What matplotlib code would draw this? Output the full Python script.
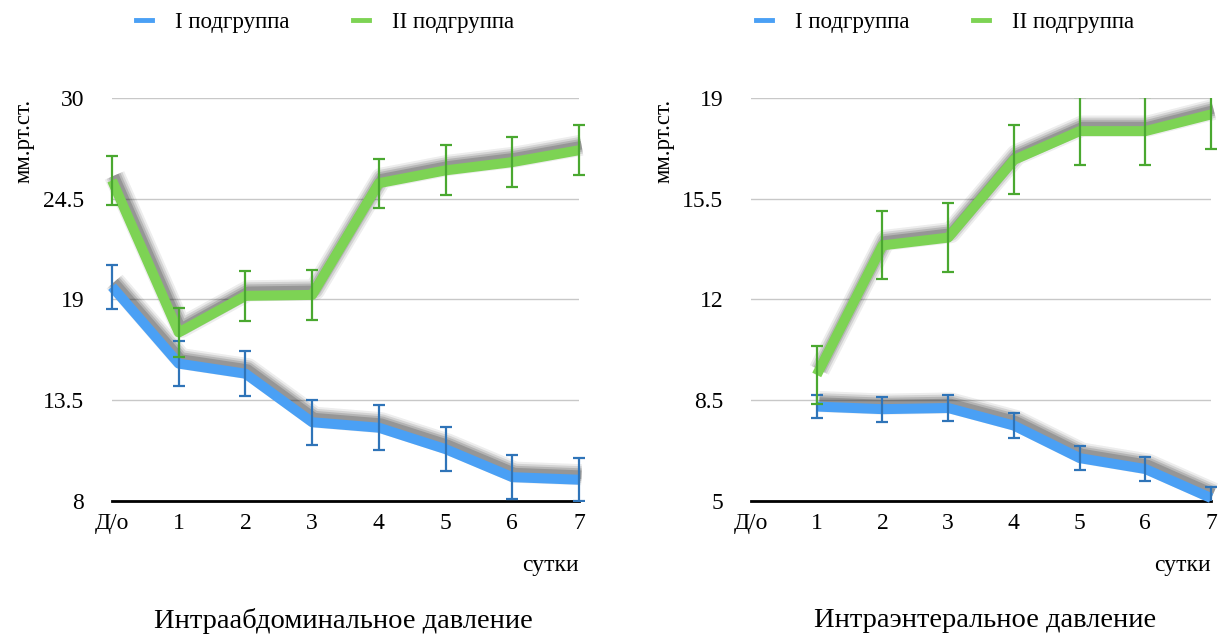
import numpy as np
import matplotlib
matplotlib.use('Agg')
import matplotlib.pyplot as plt
import matplotlib.patheffects as pe
from matplotlib.lines import Line2D
from matplotlib.transforms import Bbox, TransformedBbox

plt.rcParams['font.family'] = ['Liberation Serif', 'DejaVu Serif']

days = ['Д/о', '1', '2', '3', '4', '5', '6', '7']
series_names = ['I подгруппа', 'II подгруппа']

# Интраабдоминальное давление
abd_g1 = [19.7, 15.5, 14.95, 12.3, 12.0, 10.83, 9.3, 9.16]
abd_g1_err = [1.2, 1.23, 1.23, 1.22, 1.22, 1.2, 1.2, 1.16]
abd_g2 = [25.5, 17.2, 19.2, 19.25, 25.35, 26.05, 26.5, 27.15]
abd_g2_err = [1.35, 1.35, 1.37, 1.37, 1.34, 1.37, 1.35, 1.35]

# Интраэнтеральное давление (нет значения до операции)
ent_g1 = [np.nan, 8.28, 8.19, 8.23, 7.62, 6.49, 6.11, 5.1]
ent_g1_err = [np.nan, 0.4, 0.43, 0.44, 0.43, 0.42, 0.41, 0.4]
ent_g2 = [np.nan, 9.38, 13.88, 14.15, 16.85, 17.85, 17.85, 18.43]
ent_g2_err = [np.nan, 1.0, 1.18, 1.2, 1.2, 1.17, 1.17, 1.2]

blue_line, blue_err = '#4aa0f5', '#2f74b8'
green_line, green_err = '#7dd354', '#4aa830'

fig = plt.figure(figsize=(12.19, 6.36), dpi=100)
ax1 = fig.add_axes([0.0919, 0.2123, 0.3831, 0.6336])
ax2 = fig.add_axes([0.6161, 0.2123, 0.3774, 0.6336])

lw = 7.2
# размытая тень над линией
shadow = [pe.Stroke(linewidth=lw + w, foreground='#1a1a1a', alpha=a, offset=(1.8, 3.6))
          for w, a in ((8, 0.08), (5, 0.12), (2, 0.16), (-1, 0.2))] + [pe.Normal()]

def panel(ax, g1, e1, g2, e2, ylim, yticks, title, title_x, legend_x, ylabel_x):
    x = np.arange(len(days))
    for y, e, lc, ec in [(g1, e1, blue_line, blue_err), (g2, e2, green_line, green_err)]:
        ax.plot(x, y, color=lc, lw=lw, solid_joinstyle='round', solid_capstyle='butt',
                path_effects=shadow, zorder=3, clip_on=False)
        cont = ax.errorbar(x, y, yerr=e, fmt='none', ecolor=ec, elinewidth=1.6,
                           capsize=4.6, capthick=1.6, zorder=4)
        clip = TransformedBbox(Bbox([[-0.5, ylim[0]], [len(days) - 0.5, ylim[1]]]), ax.transData)
        for art in list(cont.lines[1]) + list(cont.lines[2]):
            art.set_clip_box(clip)
    ax.set_xlim(0, len(days) - 1)
    ax.set_ylim(*ylim)
    ax.set_yticks(yticks)
    ax.set_yticklabels([('%g' % t) for t in yticks])
    ax.set_xticks(x)
    ax.set_xticklabels(days)
    ax.tick_params(length=0, labelsize=17, colors='black')
    ax.tick_params(axis='x', pad=9)
    ax.tick_params(axis='y', pad=20)
    ax.grid(axis='y', color='#c8c8c8', lw=1)
    ax.set_axisbelow(True)
    for s in ['top', 'right', 'left']:
        ax.spines[s].set_visible(False)
    ax.spines['bottom'].set_linewidth(2)
    ax.spines['bottom'].set_zorder(2.5)
    ax.text(1.0, -0.159, 'сутки', transform=ax.transAxes, ha='right', va='center', fontsize=17)
    pos = ax.get_position()
    fig.text(ylabel_x, pos.y1 - 0.002, 'мм.рт.ст.', rotation=90, ha='center', va='top', fontsize=16.5)
    fig.text(title_x, 0.024, title, ha='center', va='center', fontsize=20.5)
    handles = [Line2D([], [], color=blue_line, lw=3.5), Line2D([], [], color=green_line, lw=3.5)]
    fig.legend(handles, series_names, loc='center', bbox_to_anchor=(legend_x, 0.9654), ncol=2,
               frameon=False, fontsize=16.5, handlelength=0.7, handletextpad=1.0, columnspacing=2.8)

panel(ax1, abd_g1, abd_g1_err, abd_g2, abd_g2_err, (8, 30), [8, 13.5, 19, 24.5, 30],
      'Интраабдоминальное давление', 0.282, 0.2666, 0.0197)
panel(ax2, ent_g1, ent_g1_err, ent_g2, ent_g2_err, (5, 19), [5, 8.5, 12, 15.5, 19],
      'Интраэнтеральное давление', 0.808, 0.7752, 0.5447)

fig.savefig('out.png', dpi=100)
